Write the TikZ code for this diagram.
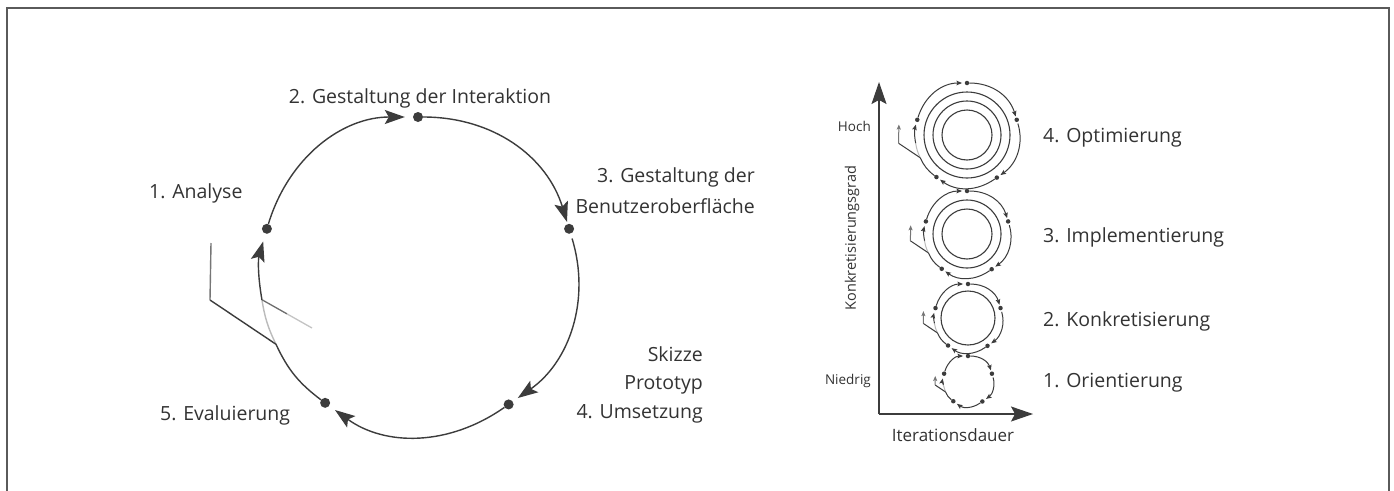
\documentclass[tikz,border=0pt]{standalone}
\usepackage{fontspec}
\setmainfont{Open Sans}
\usetikzlibrary{arrows.meta}
\definecolor{ink}{HTML}{3C3C3C}
\definecolor{txt}{HTML}{333333}
\definecolor{framec}{HTML}{5A5A5A}

\tikzset{
  lbl/.style={font=\fontsize{19.5}{23}\selectfont, text=txt, inner sep=0pt},
  small lbl/.style={font=\fontsize{13.5}{16}\selectfont, text=txt, inner sep=0pt},
  ylbl/.style={font=\fontsize{14.5}{17}\selectfont, text=txt, inner sep=0pt},
  xlbl/.style={font=\fontsize{17}{20}\selectfont, text=txt, inner sep=0pt},
  ring/.style={circle, draw=ink, line width=1.1pt, inner sep=0pt},
  axisline/.style={draw=ink, line width=1.2pt, -{Stealth[length=22pt,width=15pt,inset=4pt]}},
  bigcyc/.style={
    cycdot/.style={circle, fill=ink, inner sep=0pt, minimum size=10pt},
    cycline/.style={draw=ink, line width=1.4pt},
    cyctip/.style={-{Stealth[length=20pt,width=14pt,inset=4pt]}},
    tailtip/.style={},
    gapA/.style={shorten >=8pt}, gapB/.style={shorten >=2pt},
    gapC/.style={shorten >=6pt}, gapD/.style={shorten >=7pt},
    gapE/.style={shorten >=8pt}, startgap/.style={shorten <=5pt}},
  smallcyc/.style={
    cycdot/.style={circle, fill=ink, inner sep=0pt, minimum size=4.5pt},
    cycline/.style={draw=ink, line width=1pt},
    cyctip/.style={-{Stealth[length=5.5pt,width=4.5pt,inset=1pt]}},
    tailtip/.style={-{Stealth[length=5pt,width=4pt,inset=1pt]}},
    gapA/.style={shorten >=2.5pt}, gapB/.style={shorten >=1pt},
    gapC/.style={shorten >=2pt}, gapD/.style={shorten >=2pt},
    gapE/.style={shorten >=2.5pt}, startgap/.style={shorten <=1.5pt}},
}

% #1 prefix, #2 cx, #3 cy, #4 radius (px), #5 size style
\newcommand\cyclefig[5]{%
\begin{scope}[shift={(#2,#3)}, xscale=#4/158, yscale=-#4/158, #5]
  \node[cycdot] (#1A) at (163:158) {};
  \node[cycdot] (#1B) at (90:158) {};
  \node[cycdot] (#1C) at (17:158) {};
  \node[cycdot] (#1D) at (-55:158) {};
  \node[cycdot] (#1E) at (-126:158) {};
  \coordinate (#1F) at (206:158);
  \coordinate (#1G) at (189:158);
  \coordinate (#1T1) at (-208,-25);
  \coordinate (#1T2) at (-207,32);
  \coordinate (#1U) at (-106,-53);
  \draw[cycline, cyctip, gapA] (#1A) to[bend right=36.5] (#1B);
  \draw[cycline, cyctip, gapB] (#1B) to[bend right=36.5] (#1C);
  \draw[cycline, cyctip, gapC, startgap] (#1C) to[bend right=36] (#1D);
  \draw[cycline, cyctip, gapD] (#1D) to[bend right=35.5] (#1E);
  \draw[cycline] (#1E) to[bend right=14] (#1F);
  \draw[cycline, draw=ink!35] (#1F) to[bend right=8.5] (#1G);
  \draw[cycline, cyctip, gapE] (#1G) to[bend right=13] (#1A);
  \draw[cycline] (#1F) -- (#1T1);
  \draw[cycline, draw=ink!70, tailtip] (#1T1) -- (#1T2);
\end{scope}}

\begin{document}
\begin{tikzpicture}[x=1pt, y=-1pt]
\useasboundingbox (0,0) rectangle (1394,490);
\fill[white] (0,0) rectangle (1394,490);
% frame
\draw[framec, line width=2pt] (7,491) -- (7,8) -- (1389,8) -- (1389,491);

% ---------- left cycle ----------
\cyclefig{big}{418}{275}{158}{bigcyc}
\path (bigG) -- (bigU) coordinate[pos=0.5] (bigU1);
\draw[draw=ink!75, line width=1.3pt] (bigG) -- (bigU1);
\draw[draw=ink!30, line width=1.3pt] (bigU1) -- (bigU);

\node[lbl, anchor=base] (l2) at (420,103) {2. Gestaltung der Interaktion};
\node[lbl, anchor=base west] (l1) at (149,198) {1. Analyse};
\node[lbl, anchor=base east] (l3a) at (755,182) {3. Gestaltung der};
\node[lbl, anchor=base east] (l3b) at (755,213) {Benutzeroberfläche};
\node[lbl, anchor=base east] (sk) at (703,361) {Skizze};
\node[lbl, anchor=base east] (pr) at (703,389) {Prototyp};
\node[lbl, anchor=base east] (l4) at (703,418) {4. Umsetzung};
\node[lbl, anchor=base west] (l5) at (160,420) {5. Evaluierung};

% ---------- right chart ----------
\coordinate (O) at (879,414);
\coordinate (Ytop) at (879,82);
\coordinate (Xend) at (1033,414);
\draw[axisline] (O) -- (Ytop);
\draw[axisline] (O) -- (Xend);

\node[small lbl, anchor=base east] (hoch) at (871,131) {Hoch};
\node[small lbl, anchor=base east] (nied) at (871,384) {Niedrig};
\node[ylbl, rotate=90] (ygrad) at (852,238) {Konkretisierungsgrad};
\node[xlbl, anchor=base] (xdur) at (953,441) {Iterationsdauer};

% group 4
\node[ring, minimum size=50pt] (g4r1) at (967,135) {};
\node[ring, minimum size=68pt] (g4r2) at (967,135) {};
\node[ring, minimum size=86pt] (g4r3) at (967,135) {};
\cyclefig{gD}{967}{135}{52}{smallcyc}
% group 3
\node[ring, minimum size=50pt] (g3r1) at (967,234) {};
\node[ring, minimum size=68pt] (g3r2) at (967,234) {};
\cyclefig{gC}{967}{234}{43}{smallcyc}
% group 2
\node[ring, minimum size=54pt] (g2r1) at (968,318) {};
\cyclefig{gB}{968}{318}{34}{smallcyc}
% group 1
\cyclefig{gA}{968}{381}{25}{smallcyc}

\node[lbl, anchor=base west] (o4) at (1043,142) {4. Optimierung};
\node[lbl, anchor=base west] (o3) at (1043,242) {3. Implementierung};
\node[lbl, anchor=base west] (o2) at (1043,326) {2. Konkretisierung};
\node[lbl, anchor=base west] (o1) at (1043,387) {1. Orientierung};
\end{tikzpicture}
\end{document}
